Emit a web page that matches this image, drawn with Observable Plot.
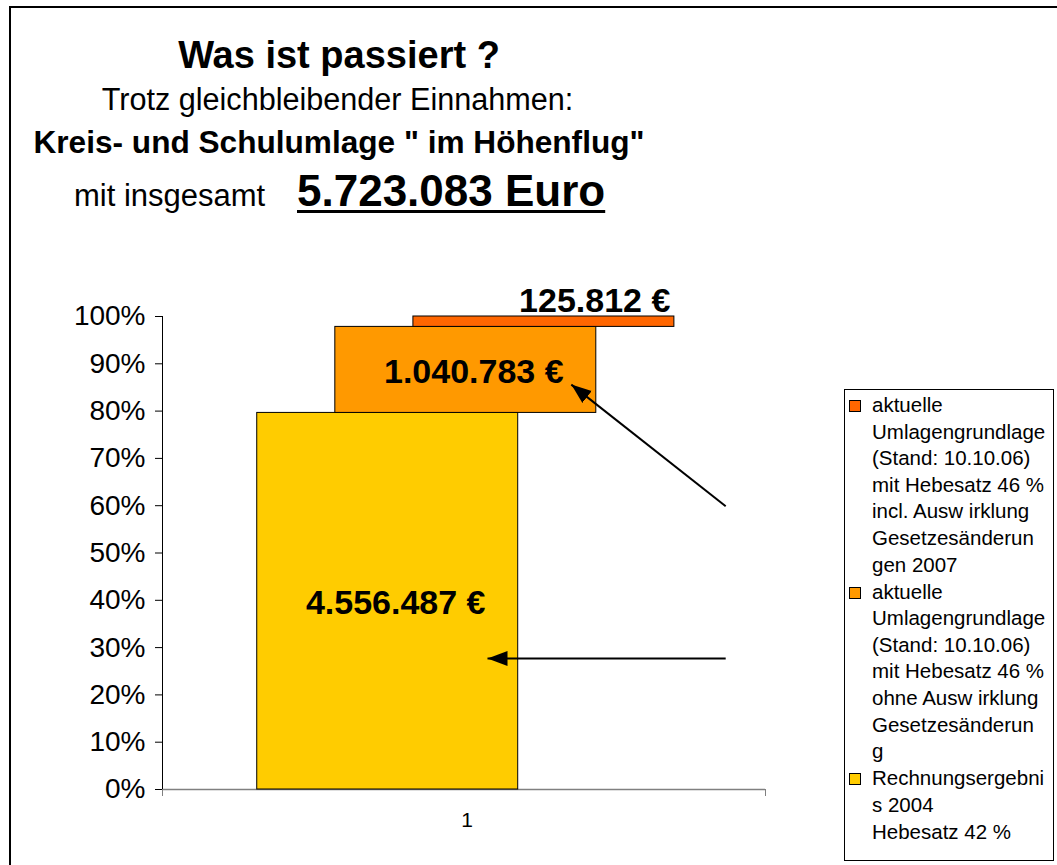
<!DOCTYPE html>
<html>
<head>
<meta charset="utf-8">
<script src="https://cdn.jsdelivr.net/npm/d3@7"></script>
<script src="https://cdn.jsdelivr.net/npm/@observablehq/plot@0.6"></script>
<style>
  body { margin: 0; background: #fff; }
  #wrap { position: relative; width: 1057px; height: 865px; overflow: hidden;
          font-family: "Liberation Sans", Arial, sans-serif; color: #000; background: #fff; }
  #frame { position: absolute; left: 9px; top: 6px; width: 1200px; height: 1200px;
           border-left: 2px solid #000; border-top: 2px solid #000; }
  .h { position: absolute; white-space: nowrap; line-height: 1; }
  #chart { position: absolute; left: 0; top: 0; }
  #legend { position: absolute; left: 844px; top: 389px; width: 208px; height: 470px;
            border: 1px solid #000; background: #fff; }
  .sw { position: absolute; width: 10px; height: 10px; border: 1px solid #000; }
  .item { position: absolute; left: 27px; font-size: 20.5px; line-height: 26.6px; white-space: nowrap; }
</style>
</head>
<body>
<div id="wrap">
  <div id="frame"></div>
  <div id="header"></div>
  <div id="chart"></div>
  <div id="legend"></div>
</div>
<script>
// ---- data ----
const titleLines = ["Was ist passiert ?", "Trotz gleichbleibender Einnahmen:", "Kreis- und Schulumlage \" im Höhenflug\""];
const totalPrefix = "mit insgesamt";
const totalText = "5.723.083 Euro";
const categories = ["1"];
const seriesValues = [4556487, 1040783, 125812];
const seriesColors = ["#FFCC00", "#FF9900", "#FF6600"];
const seriesLegend = [
  ["Rechnungsergebni", "s 2004", "Hebesatz 42 %"],
  ["aktuelle", "Umlagengrundlage", "(Stand: 10.10.06)", "mit Hebesatz 46 %", "ohne Ausw irklung", "Gesetzesänderun", "g"],
  ["aktuelle", "Umlagengrundlage", "(Stand: 10.10.06)", "mit Hebesatz 46 %", "incl. Ausw irklung", "Gesetzesänderun", "gen 2007"]
];
const yTicks = [0, 10, 20, 30, 40, 50, 60, 70, 80, 90, 100];
// arrow annotations in data space (x: category-axis fraction, y: percent)
const arrowFrom = [[0.934, 59.9], [0.934, 27.7]];
const arrowTo = [[0.678, 85.6], [0.539, 27.7]];

// ---- header ----
const header = document.getElementById("header");
function addText(txt, opts) {
  const d = document.createElement("div");
  d.className = "h";
  d.textContent = txt;
  Object.assign(d.style, opts);
  header.appendChild(d);
  return d;
}
addText(titleLines[0], {left: "339px", top: "35.8px", fontSize: "38px", fontWeight: "bold", transform: "translateX(-50%)"});
addText(titleLines[1], {left: "337.5px", top: "84px", fontSize: "30.6px", transform: "translateX(-50%)"});
addText(titleLines[2], {left: "339px", top: "127.3px", fontSize: "31.6px", fontWeight: "bold", transform: "translateX(-50%)"});
addText(totalPrefix, {left: "74px", top: "179.5px", fontSize: "31px"});
addText(totalText, {left: "297px", top: "168.8px", fontSize: "44px", fontWeight: "bold",
  textDecoration: "underline", textDecorationThickness: "3px", textUnderlineOffset: "4px"});

// ---- chart ----
const fmt = v => d3.format(",")(v).replace(/,/g, ".") + " €";
const total = d3.sum(seriesValues);
const center = 0.503, step = 0.1295, halfW = 0.2164;
let cum = 0;
const segments = seriesValues.map((v, i) => {
  const p = v / total * 100;
  const s = {i, value: v, label: fmt(v), color: seriesColors[i], y1: cum, y2: cum + p,
             xc: center + (i - 1) * step};
  cum += p;
  return s;
});
const arrows = arrowFrom.map((f, i) => ({x1: f[0], y1: f[1], x2: arrowTo[i][0], y2: arrowTo[i][1]}));

const plot = Plot.plot({
  width: 1057, height: 865,
  marginLeft: 162, marginRight: 292, marginTop: 316, marginBottom: 76,
  x: {domain: [0, 1]},
  y: {domain: [0, 100]},
  color: {type: "identity"},
  style: {fontFamily: "Liberation Sans, Arial, sans-serif", background: "transparent", overflow: "visible", color: "#000"},
  marks: [
    Plot.ruleY([0], {stroke: "#808080", strokeWidth: 1.5}),
    Plot.axisX([0, 1], {tickSize: 7, tickFormat: () => "", stroke: "#808080", label: null}),
    Plot.text(categories, {x: () => 0.5, y: () => 0, text: d => d, dy: 31, dx: 3, fontSize: 21}),
    Plot.ruleX([0], {y1: 0, y2: 100, stroke: "#000"}),
    Plot.axisY(yTicks, {tickSize: 7, tickPadding: 10, tickFormat: d => d + "%", fontSize: 28, stroke: "#000", label: null}),
    Plot.rect(segments, {x1: d => d.xc - halfW, x2: d => d.xc + halfW, y1: "y1", y2: "y2",
                         fill: "color", stroke: "#000", strokeWidth: 1}),
    Plot.text(segments.filter(d => d.i < 2), {x: "xc", y: d => (d.y1 + d.y2) / 2, text: "label",
                         fontSize: 34, fontWeight: "bold", dx: 8, dy: 2, fill: "#000"}),
    Plot.text(segments.filter(d => d.i === 2), {x: d => d.xc + halfW, y: "y2", text: "label",
                         textAnchor: "end", lineAnchor: "bottom", dx: -4, dy: -5,
                         fontSize: 34, fontWeight: "bold", fill: "#000"}),
    Plot.link(arrows, {x1: "x1", y1: "y1", x2: "x2", y2: "y2", stroke: "#000", strokeWidth: 2, markerEnd: "arrow"})
  ]
});
// filled arrowheads
plot.querySelectorAll("marker").forEach(m => {
  m.setAttribute("viewBox", "-20 -8 21 16");
  m.setAttribute("markerUnits", "userSpaceOnUse");
  m.setAttribute("markerWidth", "21");
  m.setAttribute("markerHeight", "16");
  m.setAttribute("refX", "0");
  m.setAttribute("refY", "0");
  m.setAttribute("fill", "#000");
  m.setAttribute("stroke", "none");
  m.innerHTML = '<path d="M-20,-7.5L0,0L-20,7.5Z"></path>';
});
document.getElementById("chart").appendChild(plot);

// ---- legend ----
const legend = document.getElementById("legend");
const itemStep = 186.7;
[2, 1, 0].forEach((si, k) => {
  const sw = document.createElement("div");
  sw.className = "sw";
  sw.style.background = seriesColors[si];
  sw.style.left = (849 - 845) + "px";
  sw.style.top = (400 - 390 + k * itemStep) + "px";
  legend.appendChild(sw);
  const it = document.createElement("div");
  it.className = "item";
  it.style.top = (392 - 390 + k * itemStep) + "px";
  seriesLegend[si].forEach(line => {
    const l = document.createElement("div");
    l.textContent = line;
    it.appendChild(l);
  });
  legend.appendChild(it);
});
</script>
</body>
</html>
